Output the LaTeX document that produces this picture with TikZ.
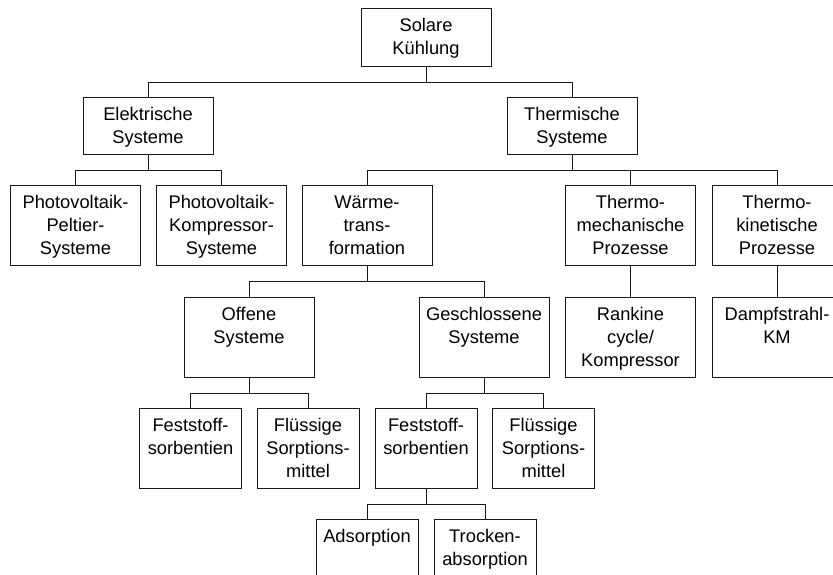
\documentclass[tikz,border=0pt]{standalone}
\usepackage{fontspec}
\setmainfont{Liberation Sans}
\usepackage{tikz}
\usetikzlibrary{positioning}
\definecolor{rahmen}{rgb}{.1,.1,.1}

\begin{document}
\begin{tikzpicture}[x=1pt,y=-1pt,% pixel units, y runs downwards
					every node/.style={
						draw=rahmen,line width=1pt,
						inner sep=0pt,
						align=center,  		% "\\" breaks the lines
						text width=130pt,
						text height=23pt,	% first baseline below the top edge
						text depth=34pt,
						anchor=north,
						font=\fontsize{18.3}{23}\selectfont
						},
					hoch/.style={text depth=57pt},
					klein/.style={text width=102pt,text depth=57pt},
					ast/.style={draw=rahmen,line width=1pt}
					]
\useasboundingbox (0,0) rectangle (833,575);
\clip (0,0) rectangle (833,575);
\node(sk) at (426,8) [text depth=35pt] {Solare\\Kühlung};
\node(el) at (148,97) {Elektrische\\Systeme};
\node(th) at (572,97) {Thermische\\Systeme};
\node[hoch](pvp) at (75.5,185) {Photovoltaik-\\Peltier-\\Systeme};
\node[hoch](pvk) at (221.5,185) {Photovoltaik-\\Kompressor-\\Systeme};
\node[hoch](wt) at (367,185) {Wärme-\\trans-\\formation};
\node[hoch](tm) at (630.5,185) {Thermo-\\mechanische\\Prozesse};
\node[hoch](tk) at (777,185) {Thermo-\\kinetische\\Prozesse};
\node[hoch](off) at (249,297) {Offene\\Systeme};
\node[hoch](ges) at (484,297) {Geschlossene\\Systeme};
\node[hoch](rk) at (630.5,297) {Rankine\\cycle/\\Kompressor};
\node[hoch](ds) at (777,297) {Dampfstrahl-\\KM};
\node[klein](fso) at (190.5,408) {Feststoff-\\sorbentien};
\node[klein](flo) at (308,408) {Flüssige\\Sorptions-\\mittel};
\node[klein](fsg) at (426,408) {Feststoff-\\sorbentien};
\node[klein](flg) at (543.5,408) {Flüssige\\Sorptions-\\mittel};
\node[klein](ad) at (367,519) {Adsorption};
\node[klein](tr) at (485,519) {Trocken-\\absorption};
% branches: down to the bar, across, down to the child
\foreach \kind in {el,th} \draw[ast] (sk.south) -- ++(0,15.5) -| (\kind.north);
\foreach \kind in {pvp,pvk} \draw[ast] (el.south) -- ++(0,15.5) -| (\kind.north);
\foreach \kind in {wt,tm,tk} \draw[ast] (th.south) -- ++(0,15.5) -| (\kind.north);
\foreach \kind in {off,ges} \draw[ast] (wt.south) -- ++(0,15.5) -| (\kind.north);
\draw[ast] (tm.south) -- (rk.north);
\draw[ast] (tk.south) -- (ds.north);
\foreach \kind in {fso,flo} \draw[ast] (off.south) -- ++(0,15.5) -| (\kind.north);
\foreach \kind in {fsg,flg} \draw[ast] (ges.south) -- ++(0,15.5) -| (\kind.north);
\foreach \kind in {ad,tr} \draw[ast] (fsg.south) -- ++(0,15.5) -| (\kind.north);
\end{tikzpicture}
\end{document}
